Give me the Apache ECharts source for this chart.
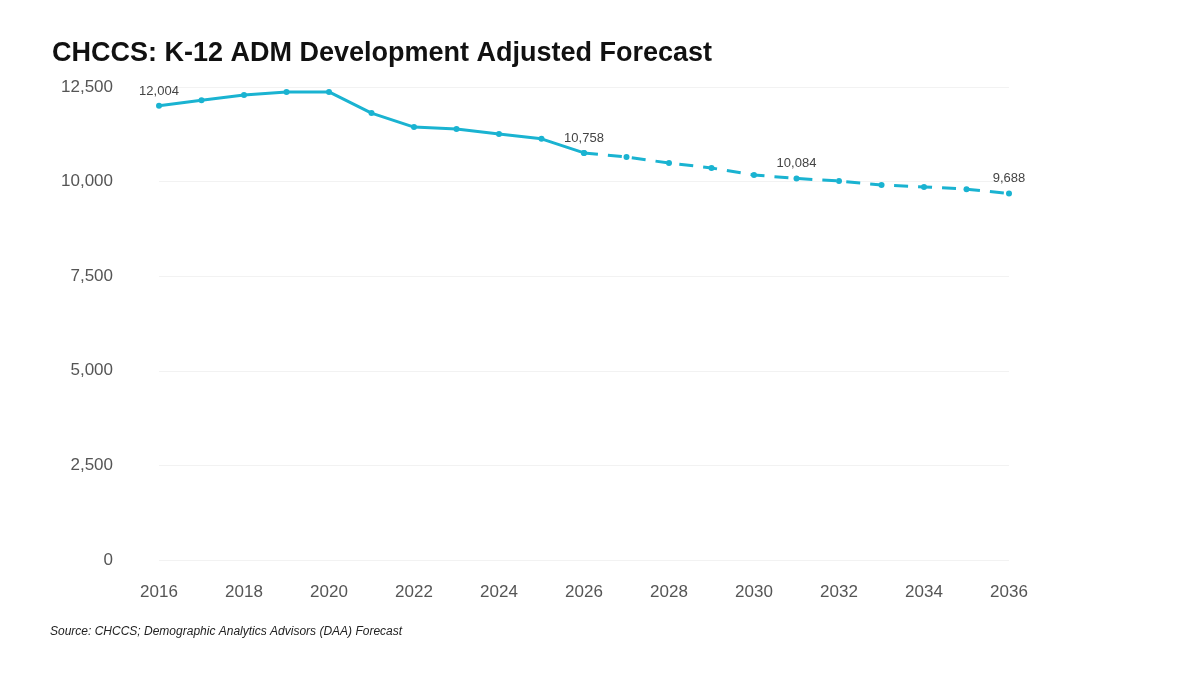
<!DOCTYPE html>
<html>
<head>
<meta charset="utf-8">
<script src="https://cdn.jsdelivr.net/npm/echarts@6/dist/echarts.min.js"></script>
<style>html,body{margin:0;background:#fff}#chart{width:1200px;height:676px}</style>
</head>
<body>
<div id="chart"></div>
<script>
var years = ["2016","2017","2018","2019","2020","2021","2022","2023","2024","2025","2026",
  "2027","2028","2029","2030","2031","2032","2033","2034","2035","2036"];
var actual = [12004,12150,12290,12370,12370,11810,11440,11390,11260,11130,10758];
var forecast = [10758,10650,10490,10360,10175,10084,10016,9910,9860,9800,9688];
var labelYears = ["2016","2026","2031","2036"];

// 实际值和预测值放到同一长度的数组中
var solidData = years.map(function (y, i) { return i < actual.length ? actual[i] : null; });
var dashData = years.map(function (y, i) {
  var k = i - (actual.length - 1);
  return k >= 0 ? forecast[k] : null;
});

function lbl(p) {
  return labelYears.indexOf(p.name) >= 0 ? p.value.toLocaleString("en-US") : "";
}

var chart = echarts.init(document.getElementById("chart"));
chart.setOption({
  title: {
    text: "CHCCS: K-12 ADM Development Adjusted Forecast",
    left: 47, top: 35,
    textStyle: { fontFamily: "Liberation Sans", fontSize: 27, fontWeight: "bold", color: "#111" }
  },
  graphic: [{
    type: "text", left: 50, top: 626,
    style: { text: "Source: CHCCS; Demographic Analytics Advisors (DAA) Forecast",
      font: "italic 12px Liberation Sans", fill: "#222" }
  }],
  grid: { left: 159, right: 191, top: 87, bottom: 116 },
  xAxis: {
    type: "category", data: years, boundaryGap: false,
    axisLine: { show: false }, axisTick: { show: false },
    axisLabel: { interval: 1, color: "#555", fontSize: 17, margin: 24, fontFamily: "Liberation Sans" }
  },
  yAxis: {
    type: "value", min: 0, max: 12500, interval: 2500,
    axisLabel: { color: "#555", fontSize: 17, margin: 46, fontFamily: "Liberation Sans",
      formatter: function (v) { return v.toLocaleString("en-US"); } },
    splitLine: { lineStyle: { color: "#f2f2f2" } }
  },
  series: [
    { type: "line", data: solidData, symbol: "circle", symbolSize: 6,
      lineStyle: { color: "#1ab3d1", width: 3 }, itemStyle: { color: "#1ab3d1" },
      label: { show: true, formatter: lbl, position: "top", color: "#444", fontSize: 13 } },
    { type: "line", data: dashData, symbol: "circle", symbolSize: 6,
      lineStyle: { color: "#1ab3d1", width: 3, type: [14, 10] }, itemStyle: { color: "#1ab3d1" },
      label: { show: true, position: "top", color: "#444", fontSize: 13,
        formatter: function (p) { return p.name === "2026" ? "" : lbl(p); } } }
  ]
});
</script>
</body>
</html>
